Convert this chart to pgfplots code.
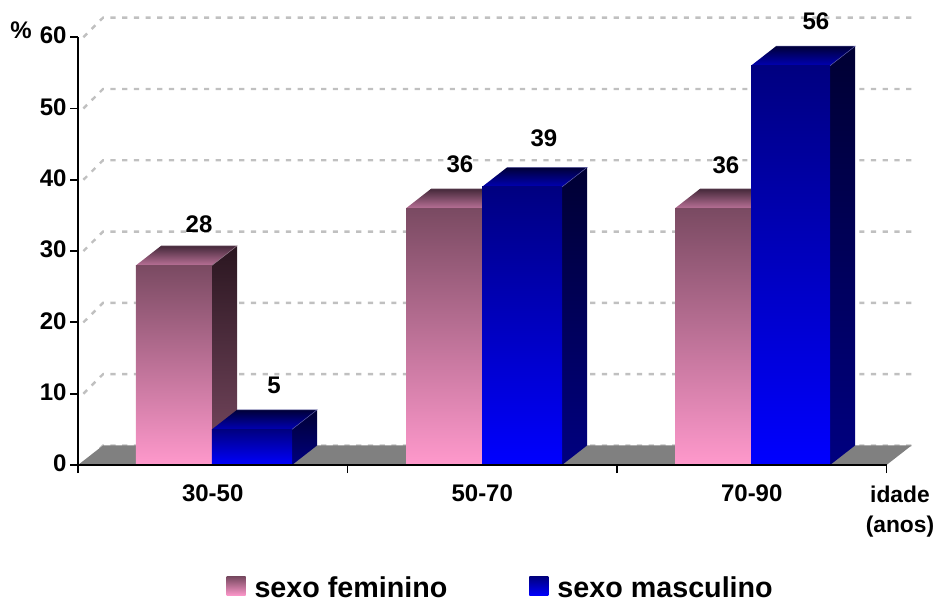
\documentclass[border=0pt]{standalone}
\usepackage{fontspec}
\setmainfont{Liberation Sans}
\usepackage{pgfplots}
\pgfplotsset{compat=1.18}

\definecolor{femtopcol}{HTML}{7A4A62}
\definecolor{fembotcol}{HTML}{FF99CC}
\definecolor{mascTop}{HTML}{000080}
\definecolor{mascMid}{HTML}{0000B0}
\definecolor{mascBot}{HTML}{0000FF}
\definecolor{gridgray}{HTML}{C0C0C0}
\definecolor{floorgray}{HTML}{808080}
\definecolor{HTMLdarkfem}{HTML}{2A1620}
\definecolor{HTMLbackfem}{HTML}{45293A}
\definecolor{HTMLfrontfem}{HTML}{B87096}
\definecolor{HTMLedgefem}{HTML}{8A7080}
\definecolor{HTMLdarkmasc}{HTML}{000033}
\definecolor{HTMLbackmasc}{HTML}{000038}
\definecolor{HTMLfrontmasc}{HTML}{0000B4}
\definecolor{HTMLedgemasc}{HTML}{5858A0}

% Faces of the two bar families
\tikzset{
  femfront/.style={draw=none,top color=femtopcol,bottom color=fembotcol},
  femside/.style={draw=none,top color=HTMLdarkfem,bottom color=femtopcol},
  femtop/.style={draw=none,top color=HTMLbackfem,bottom color=HTMLfrontfem},
  femedge/.style={draw=HTMLedgefem,line width=0.5pt},
  mascfront/.style={draw=none,top color=mascTop,middle color=mascMid,bottom color=mascBot},
  mascside/.style={draw=none,top color=HTMLdarkmasc,bottom color=mascTop},
  masctop/.style={draw=none,top color=HTMLbackmasc,bottom color=HTMLfrontmasc},
  mascedge/.style={draw=HTMLedgemasc,line width=0.5pt},
}

% Depth of the extruded bars, in axis units
\def\dpx{0.0928}
\def\dpy{2.735}

% left edge, right edge, value, family
\newcommand{\threeDbar}[4]{%
  \pgfmathsetmacro{\xa}{#1+\dpx}%
  \pgfmathsetmacro{\xb}{#2+\dpx}%
  \pgfmathsetmacro{\ya}{#3+\dpy}%
  \addplot[#4side,forget plot] coordinates {(#2,0) (#2,#3) (\xb,\ya) (\xb,\dpy)} --cycle;
  \addplot[#4top,forget plot] coordinates {(#1,#3) (#2,#3) (\xb,\ya) (\xa,\ya)} --cycle;
  \addplot[#4front,forget plot] coordinates {(#1,0) (#1,#3) (#2,#3) (#2,0)} --cycle;
  \addplot[#4edge,forget plot] coordinates {(\xa,\ya) (\xb,\ya) (#2,#3)};
}

% Rear wall lines: up the side wall, then along the back
\newcommand{\wallline}[1]{%
  \pgfmathsetmacro{\ya}{#1+\dpy}%
  \addplot[gridgray,line width=2.4pt,dash pattern=on 5.2pt off 6.5pt,forget plot]
    coordinates {(0.02,#1) (\dpx,\ya) (3.102,\ya)};
}

\begin{document}
\begin{tikzpicture}
\useasboundingbox (0,0) rectangle (939pt,602pt);
\begin{axis}[
  at={(78pt,137pt)},anchor=south west,
  scale only axis,width=808.5pt,height=427.8pt,
  xmin=0,xmax=3,ymin=0,ymax=60,
  clip=false,axis on top,
  axis x line*=bottom,axis y line*=left,
  axis line style={black,line width=2pt,-},
  tick style={black,line width=1.8pt},
  tick align=outside,major tick length=8pt,
  xtick={0,1,2,3},xticklabels={},
  extra x ticks={0.5,1.5,2.5},
  extra x tick labels={30-50,50-70,70-90},
  extra x tick style={major tick length=0pt,
    tick label style={font=\fontsize{24}{24}\selectfont\bfseries,yshift=-16pt}},
  ytick={0,10,...,60},
  /pgf/number format/assume math mode=true,
  y tick label style={font=\fontsize{24}{24}\selectfont\bfseries,xshift=0pt,yshift=1.5pt},
  legend columns=2,
  legend style={draw=none,fill=none,at={(148.5pt,-136pt)},anchor=south west,
    font=\fontsize{28.7}{28.7}\selectfont\bfseries,
    inner sep=0pt,outer sep=0pt,
    /tikz/every even column/.append style={column sep=80pt}},
  legend cell align=left,
]
\wallline{0}
\addplot[fill=floorgray,draw=none,forget plot]
  coordinates {(0,0) (3,0) (3.0928,2.735) (0.0928,2.735)} --cycle;
\wallline{10}\wallline{20}\wallline{30}\wallline{40}\wallline{50}\wallline{60}

\threeDbar{0.2152}{0.4972}{28}{fem}
\threeDbar{0.4972}{0.7941}{5}{masc}
\threeDbar{1.2171}{1.4991}{36}{fem}
\threeDbar{1.4991}{1.7959}{39}{masc}
\threeDbar{2.2152}{2.4972}{36}{fem}
\threeDbar{2.4972}{2.7904}{56}{masc}

% Value labels
\addplot[draw=none,mark=none,forget plot,
  point meta=explicit symbolic,
  nodes near coords,nodes near coords align=center,
  every node near coord/.append style={anchor=center,inner sep=0pt,
    font=\fontsize{24}{24}\selectfont\bfseries}]
  table[meta=v] {
  x y v
  0.449 33.8 28
  0.727 11.2 5
  1.417 42.2 36
  1.729 45.8 39
  2.404 42.1 36
  2.738 62.3 56
};

\addlegendimage{legend image code/.code={
  \path[draw=none,top color=femtopcol,bottom color=fembotcol] (0pt,-8pt) rectangle (19pt,11pt);
  \path[draw=none] (19pt,0pt) -- (26pt,0pt);}}
\addlegendentry{sexo feminino}
\addlegendimage{legend image code/.code={
  \path[draw=none,top color=mascTop,bottom color=mascBot] (0pt,-8pt) rectangle (19pt,11pt);
  \path[draw=none] (19pt,0pt) -- (26pt,0pt);}}
\addlegendentry{sexo masculino}

\node[font=\fontsize{22.8}{30}\selectfont\bfseries,align=center] at (axis cs:3.05,-6.6) {idade\\(anos)};
\node[font=\fontsize{24}{24}\selectfont\bfseries] at (axis cs:-0.2115,61) {\%};
\end{axis}
\end{tikzpicture}
\end{document}
